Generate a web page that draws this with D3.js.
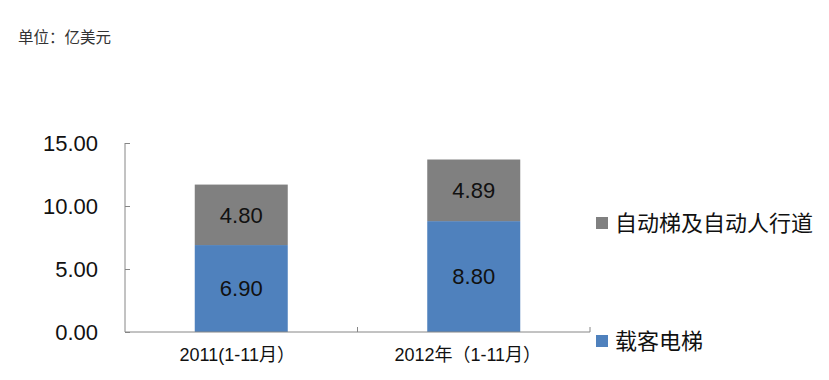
<!DOCTYPE html>
<html><head><meta charset="utf-8">
<script src="https://cdn.jsdelivr.net/npm/d3@7"></script>
<style>body{margin:0;background:#fff}svg{display:block;font-family:"Liberation Sans","Noto Sans CJK SC",sans-serif}</style>
</head><body>
<script>
const categories = ["2011(1-11月）", "2012年（1-11月）"];
const passenger = [6.90, 8.80];   // 载客电梯
const escalator = [4.80, 4.89];   // 自动梯及自动人行道
const seriesNames = ["载客电梯", "自动梯及自动人行道"];
const yTicks = [0, 5, 10, 15];
const unitLabel = "单位：亿美元";

const W = 829, H = 380;
const svg = d3.select("body").append("svg").attr("width", W).attr("height", H);
const colors = ["#4F81BD", "#808080"];
const axisColor = "#868686";

const x = d3.scaleBand().domain(categories).range([125, 590]).padding(0);
const y = d3.scaleLinear().domain([0, 15]).range([332, 143]);
const barW = x.bandwidth() * 0.4;

svg.append("text").attr("x", 18).attr("y", 43).attr("font-size", 15.5).attr("fill", "#333").text(unitLabel);

const data = categories.map((c, i) => ({cat: c, vals: [passenger[i], escalator[i]]}));
const stackData = d3.stack().keys([0, 1]).value((d, k) => d.vals[k])(data);

stackData.forEach((layer, k) => {
  svg.append("g").selectAll("rect").data(layer).join("rect")
    .attr("x", d => x(d.data.cat) + (x.bandwidth() - barW) / 2)
    .attr("width", barW)
    .attr("y", d => y(d[1]))
    .attr("height", d => y(d[0]) - y(d[1]))
    .attr("fill", colors[k]);
  svg.append("g").selectAll("text").data(layer).join("text")
    .attr("x", d => x(d.data.cat) + x.bandwidth() / 2)
    .attr("y", d => (y(d[0]) + y(d[1])) / 2)
    .attr("dy", "0.36em")
    .attr("text-anchor", "middle")
    .attr("font-size", 22)
    .attr("fill", "#111")
    .text(d => d.data.vals[k].toFixed(2));
});

// y axis
const ya = svg.append("g").attr("transform", "translate(125,0)")
  .call(d3.axisLeft(y).tickValues(yTicks).tickSize(-5).tickPadding(27).tickFormat(d3.format(".2f")));
ya.select(".domain").attr("stroke", axisColor).attr("d", `M0,${y(15)}V${y(0)}`);
ya.selectAll(".tick line").attr("stroke", axisColor);
ya.selectAll(".tick text").attr("font-size", 22).attr("fill", "#111").attr("font-family", "Liberation Sans");

// x axis
const xa = svg.append("g").attr("transform", `translate(0,${y(0)})`)
  .call(d3.axisBottom(x).tickSize(0).tickPadding(16));
xa.select(".domain").attr("stroke", axisColor).attr("d", `M125,0H590`);
xa.selectAll(".tick text").attr("font-size", 18).attr("fill", "#111").attr("font-family", "Liberation Sans, Noto Sans CJK SC")
  .attr("dx", (d, i) => i === 0 ? -4 : -6);
// tick marks at band boundaries
const bounds = categories.map(c => x(c) + x.bandwidth());
svg.append("g").selectAll("line").data(bounds).join("line")
  .attr("x1", d => d).attr("x2", d => d)
  .attr("y1", y(0)).attr("y2", y(0) - 5)
  .attr("stroke", axisColor);

// legend
const legend = [{name: seriesNames[1], c: colors[1], cy: 223}, {name: seriesNames[0], c: colors[0], cy: 341}];
const lg = svg.append("g").selectAll("g").data(legend).join("g")
  .attr("transform", d => `translate(596,${d.cy})`);
lg.append("rect").attr("x", 0).attr("y", -6).attr("width", 12).attr("height", 12).attr("fill", d => d.c);
lg.append("text").attr("x", 19).attr("dy", "0.36em").attr("font-size", 22).attr("fill", "#111")
  .attr("font-family", "Noto Sans CJK SC").text(d => d.name);
</script>
</body></html>
